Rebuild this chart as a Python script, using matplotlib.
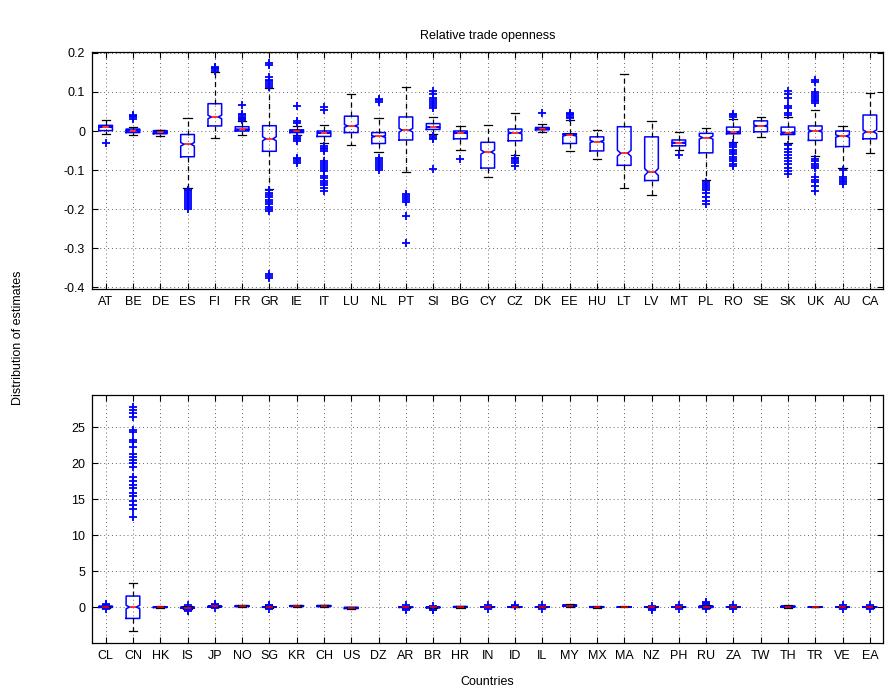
import numpy as np
import matplotlib
matplotlib.use('Agg')
import matplotlib.pyplot as plt

plt.rcParams['font.family'] = ['Liberation Sans', 'DejaVu Sans']
plt.rcParams['axes.unicode_minus'] = False

# ---- top panel: euro area / EU / advanced economies
top_countries = ['AT', 'BE', 'DE', 'ES', 'FI', 'FR', 'GR', 'IE', 'IT', 'LU',
                 'NL', 'PT', 'SI', 'BG', 'CY', 'CZ', 'DK', 'EE', 'HU', 'LT',
                 'LV', 'MT', 'PL', 'RO', 'SE', 'SK', 'UK', 'AU', 'CA']
top_lo = [-0.007, -0.010, -0.014, -0.145, -0.018, -0.009, -0.148, -0.010,
          -0.032, -0.037, -0.055, -0.106, -0.008, -0.048, -0.117, -0.062,
          -0.003, -0.051, -0.072, -0.145, -0.163, -0.048, -0.125, -0.027,
          -0.015, -0.030, -0.065, -0.095, -0.056]
top_q1 = [0.001, -0.004, -0.007, -0.066, 0.013, 0.000, -0.052, -0.004,
          -0.014, -0.004, -0.032, -0.023, 0.004, -0.020, -0.095, -0.025,
          0.003, -0.032, -0.051, -0.088, -0.127, -0.038, -0.056, -0.007,
          -0.002, -0.009, -0.024, -0.040, -0.020]
top_med = [0.010, 0.001, -0.003, -0.034, 0.036, 0.004, -0.020, 0.000,
           -0.005, 0.013, -0.014, 0.002, 0.010, -0.005, -0.054, -0.005,
           0.005, -0.011, -0.027, -0.057, -0.105, -0.030, -0.017, -0.002,
           0.013, -0.004, 0.000, -0.013, -0.002]
top_q3 = [0.0145, 0.005, 0.001, -0.009, 0.070, 0.011, 0.0136, 0.003,
          0.000, 0.038, -0.004, 0.036, 0.019, 0.000, -0.029, 0.005,
          0.009, -0.007, -0.015, 0.011, -0.015, -0.023, -0.006, 0.010,
          0.026, 0.010, 0.013, 0.000, 0.041]
top_hi = [0.027, 0.011, 0.003, 0.034, 0.150, 0.025, 0.110, 0.012,
          0.015, 0.095, 0.034, 0.112, 0.037, 0.012, 0.015, 0.047,
          0.017, 0.028, 0.003, 0.145, 0.026, -0.002, 0.007, 0.030,
          0.037, 0.035, 0.053, 0.014, 0.098]
top_fliers = [
    [-0.031],
    [0.032, 0.035, 0.038, 0.041],
    [],
    [-0.150, -0.155, -0.160, -0.165, -0.170, -0.175, -0.180, -0.185, -0.190,
     -0.195, -0.200],
    [0.155, 0.158, 0.161, 0.164],
    [0.028, 0.031, 0.034, 0.037, 0.040, 0.043, 0.066],
    [0.113, 0.117, 0.122, 0.127, 0.132, 0.138, 0.168, 0.174,
     -0.152, -0.158, -0.164, -0.170, -0.176, -0.182, -0.188, -0.194, -0.200,
     -0.206, -0.366, -0.372, -0.378],
    [0.020, 0.026, 0.064, -0.013, -0.017, -0.021, -0.026,
     -0.068, -0.072, -0.076, -0.081],
    [0.054, 0.061, -0.038, -0.043, -0.047, -0.051, -0.077, -0.082, -0.087,
     -0.092, -0.097, -0.102, -0.115, -0.121, -0.127, -0.133, -0.139, -0.146,
     -0.153],
    [],
    [0.075, 0.079, 0.083, -0.070, -0.075, -0.080, -0.085, -0.090, -0.095,
     -0.100],
    [-0.162, -0.167, -0.172, -0.177, -0.183, -0.217, -0.287],
    [0.060, 0.065, 0.070, 0.075, 0.080, 0.085, 0.095, 0.102,
     -0.013, -0.017, -0.021, -0.098],
    [-0.071],
    [],
    [-0.068, -0.073, -0.078, -0.083, -0.089],
    [0.045],
    [0.033, 0.037, 0.041, 0.044, 0.047],
    [],
    [],
    [],
    [-0.062],
    [-0.130, -0.135, -0.140, -0.145, -0.150, -0.160, -0.170, -0.180, -0.187],
    [0.036, 0.040, 0.043, -0.030, -0.036, -0.042, -0.048, -0.054, -0.060,
     -0.066, -0.072, -0.078, -0.084, -0.089],
    [],
    [0.040, 0.045, 0.060, 0.065, 0.085, 0.094, 0.102, -0.035, -0.045, -0.055,
     -0.062, -0.070, -0.078, -0.085, -0.095, -0.103, -0.111],
    [0.072, 0.076, 0.080, 0.085, 0.090, 0.095, 0.100, 0.125, 0.132,
     -0.072, -0.078, -0.084, -0.090, -0.094, -0.119, -0.125, -0.131, -0.142,
     -0.153],
    [-0.100, -0.119, -0.123, -0.127, -0.131, -0.136],
    [],
]

# ---- bottom panel: other economies (DZ, TW have no estimates)
bot_countries = ['CL', 'CN', 'HK', 'IS', 'JP', 'NO', 'SG', 'KR', 'CH', 'US',
                 'DZ', 'AR', 'BR', 'HR', 'IN', 'ID', 'IL', 'MY', 'MX', 'MA',
                 'NZ', 'PH', 'RU', 'ZA', 'TW', 'TH', 'TR', 'VE', 'EA']
nan = np.nan
bot_lo = [-0.15, -3.3, -0.12, -0.25, -0.05, 0.00, -0.08, 0.02, 0.00, -0.30,
          nan, -0.10, -0.15, -0.10, -0.04, -0.04, -0.06, 0.05, -0.10, -0.06,
          -0.05, -0.04, -0.15, -0.04, nan, -0.15, -0.06, -0.05, -0.08]
bot_q1 = [-0.05, -1.58, -0.06, -0.15, 0.02, 0.08, -0.03, 0.10, 0.08, -0.20,
          nan, -0.05, -0.08, -0.03, -0.01, -0.01, -0.02, 0.12, -0.04, -0.02,
          -0.02, -0.01, -0.05, -0.01, nan, -0.03, -0.02, -0.02, -0.03]
bot_med = [0.05, 0.0, -0.02, -0.08, 0.08, 0.13, 0.00, 0.15, 0.15, -0.10,
           nan, -0.02, -0.05, 0.02, 0.01, 0.01, 0.00, 0.20, 0.00, 0.01,
           0.00, 0.01, 0.05, 0.01, nan, 0.05, 0.00, 0.00, 0.00]
bot_q3 = [0.12, 1.53, 0.03, 0.00, 0.12, 0.20, 0.04, 0.20, 0.22, -0.03,
          nan, 0.02, 0.00, 0.08, 0.03, 0.03, 0.03, 0.30, 0.05, 0.04,
          0.02, 0.03, 0.15, 0.03, nan, 0.15, 0.03, 0.02, 0.04]
bot_hi = [0.20, 3.4, 0.08, 0.10, 0.20, 0.28, 0.09, 0.28, 0.30, 0.05,
          nan, 0.06, 0.04, 0.15, 0.06, 0.06, 0.06, 0.40, 0.10, 0.08,
          0.05, 0.05, 0.30, 0.06, nan, 0.25, 0.06, 0.05, 0.08]
bot_fliers = [
    [0.30, 0.40, -0.25],
    [27.9, 27.4, 27.0, 26.5, 24.7, 24.4, 23.3, 22.9, 22.3, 21.3, 20.9, 20.5,
     20.0, 19.5, 18.1, 17.6, 17.0, 16.5, 15.9, 15.4, 14.8, 14.2, 13.6, 12.5],
    [],
    [0.30, -0.35, -0.45, -0.60],
    [0.35, 0.45, -0.15],
    [],
    [0.25, 0.35, -0.25],
    [],
    [],
    [],
    [],
    [0.25, -0.30, -0.40],
    [0.20, -0.35, -0.45],
    [],
    [0.30, -0.30],
    [0.35, 0.20],
    [0.25, -0.30],
    [],
    [],
    [],
    [0.20, -0.30, -0.35],
    [0.25, -0.25],
    [0.45, 0.60, 0.75, -0.30],
    [0.25, -0.25],
    [],
    [],
    [],
    [0.25, -0.30],
    [0.30, -0.25],
]

N_DRAWS = 400  # draws per country, sets notch size like MATLAB boxplot


def make_stats(lo, q1, med, q3, hi, fliers):
    stats, pos = [], []
    for i in range(len(med)):
        if np.isnan(med[i]):
            continue
        notch = 1.57 * (q3[i] - q1[i]) / np.sqrt(N_DRAWS)
        stats.append(dict(med=med[i], q1=q1[i], q3=q3[i],
                          whislo=lo[i], whishi=hi[i],
                          cilo=med[i] - notch, cihi=med[i] + notch,
                          fliers=np.array(fliers[i])))
        pos.append(i + 1)
    return stats, pos


def draw(ax, stats, pos, labels):
    ax.bxp(stats, positions=pos, widths=0.5, capwidths=0.3,
           shownotches=True, manage_ticks=False,
           boxprops=dict(color='#0000ff', lw=1.1),
           medianprops=dict(color='#ff0000', lw=1.1),
           whiskerprops=dict(color='black', lw=0.9, ls=(0, (4, 3))),
           capprops=dict(color='black', lw=0.9),
           flierprops=dict(marker='+', markeredgecolor='#0000ff',
                           markersize=6, mew=1.3, ls='none'))
    ax.set_xlim(0.5, len(labels) + 0.5)
    ax.set_xticks(range(1, len(labels) + 1))
    ax.set_xticklabels(labels)
    ax.grid(True, ls=(0, (1, 3)), lw=0.7, color='0.4')
    ax.set_axisbelow(True)
    ax.tick_params(direction='in', top=True, right=True, length=4,
                   labelsize=9, pad=5)
    for s in ax.spines.values():
        s.set_linewidth(0.9)


fig = plt.figure(figsize=(8.85, 6.98), dpi=100)
ax1 = fig.add_axes([92 / 885, 1 - 289 / 698, 791.5 / 885, 237 / 698])
ax2 = fig.add_axes([92 / 885, 1 - 643 / 698, 791.5 / 885, 248 / 698])

s, p = make_stats(top_lo, top_q1, top_med, top_q3, top_hi, top_fliers)
draw(ax1, s, p, top_countries)
ax1.set_ylim(-0.405, 0.2025)
yt = [-0.4, -0.3, -0.2, -0.1, 0, 0.1, 0.2]
ax1.set_yticks(yt)
ax1.set_yticklabels([f'{v:g}' for v in yt])
ax1.set_title('Relative trade openness', fontsize=9, pad=9)

s, p = make_stats(bot_lo, bot_q1, bot_med, bot_q3, bot_hi, bot_fliers)
draw(ax2, s, p, bot_countries)
ax2.set_ylim(-5, 29.5)
yt = [0, 5, 10, 15, 20, 25]
ax2.set_yticks(yt)
ax2.set_yticklabels([f'{v:g}' for v in yt])
ax2.set_xlabel('Countries', fontsize=9, labelpad=10)

fig.text(18 / 885, 1 - 338 / 698, 'Distribution of estimates', fontsize=9,
         rotation=90, ha='center', va='center')

fig.savefig('out.png', dpi=100)
